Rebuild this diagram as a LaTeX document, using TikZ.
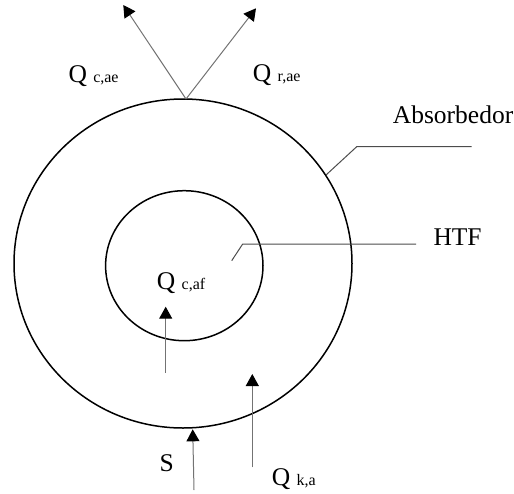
\documentclass[tikz,border=0pt]{standalone}
\usepackage{fontspec}
\setmainfont{Liberation Serif}
\usetikzlibrary{arrows.meta,shapes.geometric}
\begin{document}
\begin{tikzpicture}[x=1pt,y=-1pt,
  ring/.style={draw=black,line width=1.5pt,ellipse,inner sep=0pt},
  flux/.style={draw=black!55,line width=1pt,-{Triangle[length=12pt,width=13pt,color=black]}},
  leader/.style={draw=black!70,line width=1pt},
  lbl/.style={anchor=base west,inner sep=0pt,font=\fontsize{25.5}{25.5}\selectfont}]
\useasboundingbox (0,0) rectangle (514,493);
\newcommand{\subtxt}[1]{{\fontsize{16}{16}\selectfont #1}}
% rings
\node[ring,minimum width=338pt,minimum height=329pt] (outer) at (183,263.5) {};
\node[ring,minimum width=157.4pt,minimum height=150pt] (inner) at (184.3,265.7) {};
% labels
\node[lbl] (qcae) at (68.3,82.7) {Q \subtxt{c,ae}};
\node[lbl] (qrae) at (252.7,81.7) {Q \subtxt{r,ae}};
\node[lbl] (qcaf) at (156.7,289.3) {Q \subtxt{c,af}};
\node[lbl] (s) at (159.3,471) {S};
\node[lbl] (qka) at (271.7,485.7) {Q \subtxt{k,a}};
\node[lbl] (abs) at (392.7,123.3) {Absorbedor};
\node[lbl] (htf) at (433.3,245) {HTF};
% arrow end points
\coordinate (top) at (186,99);
\coordinate (tl) at (123.3,5);
\coordinate (tr) at (256,8.3);
\coordinate (a1s) at (165.7,372.7);
\coordinate (a1e) at (165.7,306.7);
\coordinate (a2s) at (194,490);
\coordinate (a2e) at (192.7,429.3);
\coordinate (a3s) at (252.3,467.3);
\coordinate (a3e) at (252.3,374);
% arrows
\draw[flux] (top) -- (tl);
\draw[flux] (top) -- (tr);
\draw[flux] (a1s) -- (a1e);
\draw[flux] (a2s) -- (a2e);
\draw[flux] (a3s) -- (a3e);
% leaders
\coordinate (l1a) at (326,175);
\coordinate (l1b) at (356.7,146.7);
\coordinate (l1c) at (471.7,146.7);
\draw[leader] (l1a) -- (l1b) -- (l1c);
\coordinate (l2a) at (231.7,260.7);
\coordinate (l2b) at (242.7,244);
\coordinate (l2c) at (416,244);
\draw[leader] (l2a) -- (l2b) -- (l2c);
\end{tikzpicture}
\end{document}
